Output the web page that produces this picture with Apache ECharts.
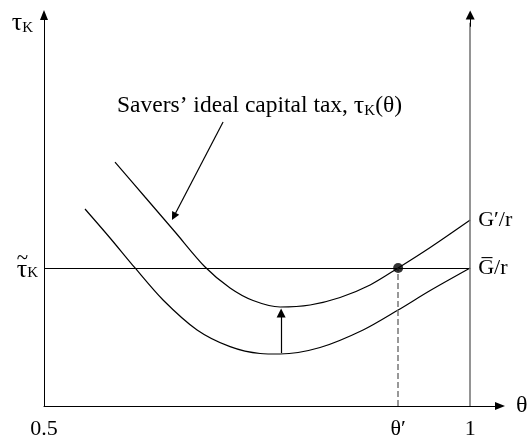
<!DOCTYPE html>
<html>
<head>
<meta charset="utf-8">
<title>Savers' ideal capital tax</title>
<script src="https://cdn.jsdelivr.net/npm/echarts@6/dist/echarts.min.js"></script>
<style>
html, body { margin: 0; padding: 0; background: #fff; }
#main { width: 530px; height: 441px; }
</style>
</head>
<body>
<div id="main"></div>
<script>
var FONT = 'Liberation Serif';

// curves (theta, tau_K)
var upperTheta = [0.5833, 0.6185, 0.6538, 0.6890, 0.7183, 0.7453, 0.7770, 0.8122, 0.8474, 0.8826, 0.9155, 0.9531, 1.0];
var upperTau   = [0.624, 0.5345, 0.445, 0.3555, 0.3018, 0.2698, 0.2532, 0.2583, 0.2775, 0.3095, 0.353, 0.4054, 0.4757];
var lowerTheta = [0.5481, 0.5775, 0.6068, 0.6397, 0.6796, 0.7183, 0.7535, 0.7770, 0.8239, 0.8744, 0.9155, 0.9531, 1.0];
var lowerTau   = [0.5038, 0.4297, 0.353, 0.2711, 0.1944, 0.1517, 0.1343, 0.133, 0.1496, 0.1944, 0.2455, 0.2954, 0.353];

var tauTilde = 0.353;
var thetaPrime = 0.9155;
var xTicks = [0.5, thetaPrime, 1];
var xTickLabels = ['0.5', 'θ′', '1'];

// shift arrow between the two minima, and the pointer from the caption
var shiftArrow = [[0.7782, 0.1355], [0.7782, 0.238]];
var pointerArrow = [[0.7101, 0.7263], [0.6523, 0.4847]];

function zip(a, b) {
    return a.map(function (v, i) { return [v, b[i]]; });
}

var subRich = {
    t: { fontFamily: FONT, fontSize: 23.5, color: '#000' },
    g: { fontFamily: FONT, fontSize: 26, color: '#000' },
    k: { fontFamily: FONT, fontSize: 15, color: '#000', verticalAlign: 'bottom' },
    w: { fontFamily: FONT, fontSize: 21, color: '#000', lineHeight: 4, padding: [4, 10, 0, 0] },
    m: { fontFamily: FONT, fontSize: 26, color: '#000', lineHeight: 22 },
    mk: { fontFamily: FONT, fontSize: 15, color: '#000', lineHeight: 22, verticalAlign: 'bottom' }
};

var myChart = echarts.init(document.getElementById('main'));

var option = {
    animation: false,
    grid: { left: 44, right: 30, top: 15, bottom: 35, containLabel: false, outerBoundsMode: 'none' },
    xAxis: {
        type: 'value',
        min: 0.5,
        max: 1.035,
        name: 'θ',
        nameGap: 16,
        nameTextStyle: { fontFamily: FONT, fontSize: 24, color: '#000' },
        axisLine: { show: true, onZero: false, symbol: ['none', 'triangle'], symbolSize: [8, 10], lineStyle: { color: '#000', width: 1 } },
        axisTick: { show: false },
        splitLine: { show: false },
        axisLabel: {
            customValues: xTicks,
            margin: 12,
            fontFamily: FONT,
            fontSize: 22,
            color: '#000',
            formatter: function (v) {
                var i = xTicks.indexOf(v);
                return i >= 0 ? xTickLabels[i] : '';
            }
        }
    },
    yAxis: {
        type: 'value',
        min: 0,
        max: 1,
        name: '{g|τ}{k|K}',
        nameLocation: 'end',
        nameGap: 5,
        nameTextStyle: { align: 'right', verticalAlign: 'top', padding: [0, 11, 0, 0], rich: subRich },
        axisLine: { show: true, onZero: false, symbol: ['none', 'triangle'], symbolSize: [8, 10], lineStyle: { color: '#000', width: 1 } },
        axisTick: { show: false },
        splitLine: { show: false },
        axisLabel: {
            customValues: [tauTilde],
            margin: 6,
            formatter: function () { return '{w|~}\n{m|τ}{mk|K}'; },
            rich: subRich
        }
    },
    graphic: [{
        type: 'text',
        left: 117,
        top: 93,
        style: {
            text: '{t|Savers’ ideal capital tax, }{g|τ}{k|K}{t|(θ)}',
            rich: subRich
        }
    }],
    series: [
        {
            type: 'line',
            data: zip(upperTheta, upperTau),
            smooth: 0.3,
            symbol: 'none',
            lineStyle: { color: '#000', width: 1.2 },
            endLabel: { show: true, formatter: 'G′/r', distance: 8, fontFamily: FONT, fontSize: 22, color: '#000' }
        },
        {
            type: 'line',
            data: zip(lowerTheta, lowerTau),
            smooth: 0.3,
            symbol: 'none',
            lineStyle: { color: '#000', width: 1.2 },
            endLabel: { show: true, formatter: 'G̅/r', distance: 8, fontFamily: FONT, fontSize: 22, color: '#000' }
        },
        {
            type: 'scatter',
            data: [[thetaPrime, tauTilde]],
            symbolSize: 10,
            itemStyle: { color: '#000' },
            z: 5,
            markLine: {
                silent: true,
                symbol: ['none', 'none'],
                symbolSize: 9,
                label: { show: false },
                data: [
                    [{ coord: [0.5, tauTilde], lineStyle: { color: '#000', width: 1.2, type: 'solid' } }, { coord: [1, tauTilde] }],
                    [{ coord: [thetaPrime, 0], lineStyle: { color: '#777', width: 1.5, type: [6, 3] } }, { coord: [thetaPrime, tauTilde] }],
                    [{ coord: [1, 0], lineStyle: { color: '#707070', width: 1.5, type: 'solid' } }, { coord: [1, 0.98] }],
                    [{ coord: [1, 0.97], lineStyle: { color: '#000', width: 1, type: 'solid' } }, { coord: [1, 1], symbol: 'triangle', symbolSize: 9 }],
                    [{ coord: shiftArrow[0], lineStyle: { color: '#000', width: 1.2, type: 'solid' } }, { coord: shiftArrow[1], symbol: 'triangle', symbolSize: 9 }],
                    [{ coord: pointerArrow[0], lineStyle: { color: '#000', width: 1.2, type: 'solid' } }, { coord: pointerArrow[1], symbol: 'triangle', symbolSize: 8 }]
                ]
            }
        }
    ]
};

myChart.setOption(option);
</script>
</body>
</html>
